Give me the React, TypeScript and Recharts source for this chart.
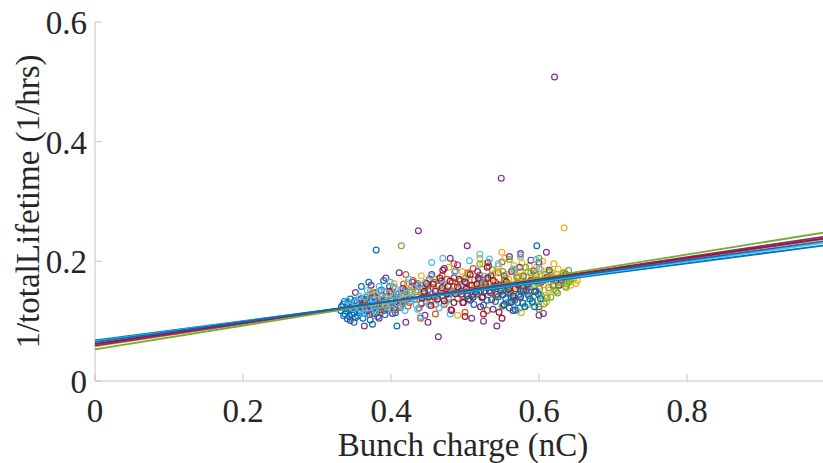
import { ScatterChart, Scatter, XAxis, YAxis } from "recharts";

// axis ticks
const chargeTicks = [0, 0.2, 0.4, 0.6, 0.8];
const rateTicks = [0, 0.2, 0.4, 0.6];

// measured points per run: [bunch charge (nC), 1/lifetime (1/hrs)]
const run1 = [
  [0.332, 0.118], [0.335, 0.128], [0.338, 0.112], [0.34, 0.122], [0.342, 0.131], [0.344, 0.108],
  [0.346, 0.119], [0.348, 0.126], [0.35, 0.114], [0.351, 0.134], [0.353, 0.121], [0.355, 0.109],
  [0.356, 0.127], [0.358, 0.117], [0.36, 0.138], [0.361, 0.124], [0.363, 0.113], [0.365, 0.13],
  [0.366, 0.119], [0.368, 0.142], [0.37, 0.126], [0.371, 0.111], [0.373, 0.133], [0.375, 0.121],
  [0.376, 0.147], [0.378, 0.128], [0.38, 0.219], [0.381, 0.116], [0.383, 0.137], [0.385, 0.124],
  [0.387, 0.152], [0.389, 0.131], [0.391, 0.118], [0.393, 0.14], [0.396, 0.127], [0.398, 0.158],
  [0.401, 0.133], [0.404, 0.121], [0.407, 0.145], [0.408, 0.092], [0.411, 0.136], [0.415, 0.129],
  [0.419, 0.149], [0.333, 0.124], [0.336, 0.109], [0.337, 0.133], [0.339, 0.117], [0.341, 0.104],
  [0.343, 0.125], [0.345, 0.137], [0.347, 0.112], [0.349, 0.121], [0.352, 0.106], [0.354, 0.131],
  [0.357, 0.114], [0.359, 0.125], [0.362, 0.105], [0.364, 0.136], [0.367, 0.116], [0.369, 0.129],
  [0.372, 0.102], [0.374, 0.139], [0.377, 0.113], [0.379, 0.124], [0.382, 0.108], [0.384, 0.131],
  [0.386, 0.119], [0.388, 0.143], [0.39, 0.125], [0.392, 0.111], [0.395, 0.134], [0.397, 0.121],
  [0.4, 0.146], [0.403, 0.127], [0.406, 0.114], [0.41, 0.139], [0.413, 0.123], [0.417, 0.135],
  [0.36, 0.158], [0.37, 0.165], [0.39, 0.168], [0.35, 0.098], [0.375, 0.095],
];
const run2 = [
  [0.362, 0.131], [0.367, 0.118], [0.372, 0.145], [0.377, 0.126], [0.382, 0.139], [0.386, 0.115],
  [0.391, 0.15], [0.395, 0.132], [0.399, 0.12], [0.403, 0.157], [0.408, 0.138], [0.412, 0.126],
  [0.417, 0.162], [0.421, 0.144], [0.425, 0.131], [0.43, 0.168], [0.434, 0.149], [0.438, 0.122],
  [0.443, 0.155], [0.447, 0.139], [0.452, 0.171], [0.456, 0.146], [0.46, 0.128], [0.465, 0.159],
  [0.469, 0.176], [0.474, 0.151], [0.478, 0.137], [0.483, 0.166], [0.487, 0.184], [0.492, 0.155],
  [0.497, 0.142], [0.501, 0.172], [0.506, 0.16], [0.511, 0.188], [0.515, 0.149], [0.52, 0.177],
  [0.526, 0.163], [0.532, 0.192], [0.538, 0.155], [0.545, 0.181], [0.553, 0.168], [0.561, 0.146],
  [0.57, 0.174], [0.364, 0.124], [0.369, 0.137], [0.374, 0.113], [0.379, 0.148], [0.384, 0.131],
  [0.389, 0.122], [0.393, 0.141], [0.397, 0.127], [0.401, 0.149], [0.406, 0.119], [0.41, 0.146],
  [0.414, 0.133], [0.419, 0.152], [0.423, 0.125], [0.428, 0.158], [0.432, 0.137], [0.436, 0.163],
  [0.441, 0.13], [0.445, 0.148], [0.45, 0.159], [0.454, 0.136], [0.458, 0.165], [0.463, 0.143],
  [0.467, 0.152], [0.472, 0.128], [0.476, 0.17], [0.481, 0.147], [0.485, 0.158], [0.49, 0.138],
  [0.494, 0.167], [0.499, 0.151], [0.504, 0.181], [0.509, 0.143], [0.513, 0.169], [0.518, 0.156],
  [0.523, 0.139], [0.529, 0.171], [0.535, 0.148], [0.541, 0.165], [0.549, 0.155], [0.44, 0.105],
  [0.46, 0.112], [0.5, 0.115], [0.53, 0.118], [0.485, 0.196], [0.55, 0.199], [0.42, 0.178],
];
const run3 = [
  [0.381, 0.142], [0.392, 0.128], [0.404, 0.163], [0.416, 0.138], [0.428, 0.152], [0.441, 0.176],
  [0.453, 0.133], [0.466, 0.168], [0.478, 0.19], [0.49, 0.147], [0.502, 0.172], [0.514, 0.158],
  [0.524, 0.196], [0.533, 0.164], [0.541, 0.181], [0.548, 0.152], [0.554, 0.205], [0.559, 0.17],
  [0.564, 0.186], [0.568, 0.158], [0.573, 0.175], [0.577, 0.197], [0.581, 0.163], [0.585, 0.182],
  [0.589, 0.148], [0.593, 0.171], [0.597, 0.19], [0.6, 0.158], [0.604, 0.176], [0.608, 0.143],
  [0.612, 0.185], [0.616, 0.165], [0.62, 0.152], [0.624, 0.178], [0.628, 0.16], [0.632, 0.171],
  [0.634, 0.256], [0.637, 0.156], [0.641, 0.168], [0.645, 0.176], [0.65, 0.163], [0.576, 0.114],
  [0.372, 0.15], [0.398, 0.146], [0.422, 0.164], [0.447, 0.141], [0.472, 0.158], [0.496, 0.183],
  [0.52, 0.147], [0.537, 0.173], [0.545, 0.192], [0.551, 0.161], [0.556, 0.178], [0.561, 0.149],
  [0.566, 0.193], [0.57, 0.167], [0.575, 0.184], [0.579, 0.155], [0.583, 0.174], [0.587, 0.192],
  [0.591, 0.16], [0.595, 0.18], [0.598, 0.169], [0.602, 0.187], [0.606, 0.161], [0.61, 0.174],
  [0.614, 0.152], [0.618, 0.181], [0.622, 0.168], [0.626, 0.187], [0.63, 0.163], [0.635, 0.182],
  [0.639, 0.172], [0.643, 0.16], [0.647, 0.171], [0.652, 0.168], [0.52, 0.205], [0.55, 0.215],
  [0.575, 0.207], [0.605, 0.2], [0.62, 0.196], [0.49, 0.11], [0.58, 0.125], [0.61, 0.132],
];
const run4 = [
  [0.345, 0.101], [0.352, 0.148], [0.364, 0.092], [0.373, 0.16], [0.384, 0.105], [0.393, 0.172],
  [0.402, 0.113], [0.411, 0.181], [0.42, 0.098], [0.429, 0.165], [0.437, 0.251], [0.446, 0.11],
  [0.455, 0.178], [0.464, 0.074], [0.472, 0.188], [0.481, 0.119], [0.49, 0.194], [0.498, 0.131],
  [0.503, 0.226], [0.509, 0.105], [0.517, 0.183], [0.524, 0.141], [0.531, 0.198], [0.538, 0.12],
  [0.543, 0.092], [0.549, 0.339], [0.553, 0.176], [0.56, 0.208], [0.567, 0.135], [0.574, 0.19],
  [0.582, 0.15], [0.589, 0.202], [0.596, 0.168], [0.6, 0.11], [0.606, 0.113], [0.614, 0.185],
  [0.621, 0.508], [0.627, 0.16], [0.636, 0.178], [0.348, 0.125], [0.358, 0.136], [0.368, 0.118],
  [0.378, 0.141], [0.388, 0.127], [0.398, 0.15], [0.407, 0.133], [0.416, 0.155], [0.425, 0.138],
  [0.434, 0.16], [0.441, 0.129], [0.45, 0.152], [0.459, 0.14], [0.468, 0.167], [0.476, 0.145],
  [0.485, 0.172], [0.494, 0.15], [0.502, 0.163], [0.511, 0.145], [0.52, 0.17], [0.528, 0.157],
  [0.535, 0.176], [0.545, 0.161], [0.556, 0.15], [0.563, 0.183], [0.571, 0.162], [0.579, 0.175],
  [0.586, 0.157], [0.593, 0.184], [0.603, 0.165], [0.611, 0.173], [0.619, 0.16], [0.63, 0.169],
  [0.48, 0.205], [0.575, 0.213], [0.6, 0.198], [0.45, 0.098], [0.525, 0.1], [0.6, 0.124], [0.61, 0.215],
];
const run5 = [
  [0.402, 0.135], [0.414, 0.226], [0.425, 0.148], [0.448, 0.158], [0.47, 0.143], [0.493, 0.167],
  [0.515, 0.152], [0.531, 0.174], [0.542, 0.141], [0.551, 0.183], [0.558, 0.16], [0.565, 0.138],
  [0.571, 0.172], [0.576, 0.15], [0.582, 0.19], [0.587, 0.163], [0.591, 0.131], [0.596, 0.177],
  [0.601, 0.154], [0.606, 0.168], [0.611, 0.139], [0.615, 0.182], [0.62, 0.161], [0.625, 0.147],
  [0.63, 0.173], [0.636, 0.158], [0.641, 0.166], [0.585, 0.128], [0.574, 0.122], [0.436, 0.152],
  [0.459, 0.17], [0.482, 0.15], [0.504, 0.178], [0.522, 0.16], [0.537, 0.186], [0.547, 0.155],
  [0.554, 0.171], [0.561, 0.149], [0.567, 0.186], [0.573, 0.161], [0.579, 0.176], [0.584, 0.146],
  [0.589, 0.181], [0.593, 0.158], [0.598, 0.165], [0.603, 0.143], [0.608, 0.178], [0.613, 0.156],
  [0.618, 0.171], [0.623, 0.15], [0.628, 0.165], [0.633, 0.18], [0.638, 0.162], [0.644, 0.171],
  [0.598, 0.135], [0.607, 0.129], [0.616, 0.14], [0.52, 0.195], [0.56, 0.203], [0.6, 0.205],
  [0.64, 0.185], [0.6, 0.12], [0.55, 0.125],
];
const run6 = [
  [0.341, 0.134], [0.349, 0.121], [0.357, 0.142], [0.362, 0.113], [0.368, 0.151], [0.373, 0.129],
  [0.379, 0.117], [0.384, 0.158], [0.389, 0.137], [0.394, 0.124], [0.399, 0.165], [0.404, 0.143],
  [0.409, 0.13], [0.414, 0.152], [0.419, 0.118], [0.424, 0.17], [0.429, 0.139], [0.434, 0.127],
  [0.439, 0.16], [0.444, 0.146], [0.449, 0.133], [0.454, 0.175], [0.459, 0.151], [0.465, 0.122],
  [0.471, 0.163], [0.478, 0.14], [0.486, 0.182], [0.495, 0.157], [0.506, 0.201], [0.519, 0.166],
  [0.533, 0.204], [0.549, 0.149], [0.566, 0.187], [0.581, 0.139], [0.596, 0.203], [0.344, 0.126],
  [0.352, 0.132], [0.359, 0.119], [0.365, 0.14], [0.37, 0.122], [0.376, 0.136], [0.381, 0.146],
  [0.386, 0.127], [0.391, 0.149], [0.396, 0.133], [0.401, 0.12], [0.406, 0.155], [0.411, 0.138],
  [0.416, 0.128], [0.421, 0.147], [0.426, 0.134], [0.431, 0.156], [0.436, 0.12], [0.441, 0.141],
  [0.446, 0.165], [0.451, 0.128], [0.456, 0.145], [0.462, 0.135], [0.468, 0.154], [0.474, 0.131],
  [0.481, 0.152], [0.49, 0.139], [0.501, 0.165], [0.513, 0.15], [0.526, 0.175], [0.541, 0.16],
  [0.558, 0.132], [0.572, 0.143], [0.588, 0.16], [0.455, 0.198], [0.47, 0.205], [0.52, 0.212],
  [0.545, 0.196], [0.575, 0.21], [0.6, 0.188], [0.44, 0.108], [0.48, 0.112], [0.57, 0.118],
];
const run7 = [
  [0.442, 0.139], [0.448, 0.163], [0.454, 0.126], [0.46, 0.15], [0.466, 0.172], [0.472, 0.134],
  [0.477, 0.158], [0.482, 0.118], [0.487, 0.146], [0.492, 0.17], [0.497, 0.131], [0.502, 0.155],
  [0.507, 0.178], [0.511, 0.14], [0.516, 0.162], [0.521, 0.124], [0.526, 0.15], [0.531, 0.172],
  [0.536, 0.136], [0.541, 0.158], [0.546, 0.115], [0.551, 0.144], [0.556, 0.166], [0.562, 0.131],
  [0.568, 0.154], [0.575, 0.141], [0.584, 0.162], [0.594, 0.149], [0.445, 0.15], [0.451, 0.141],
  [0.457, 0.162], [0.463, 0.137], [0.469, 0.156], [0.475, 0.146], [0.48, 0.167], [0.485, 0.131],
  [0.49, 0.157], [0.495, 0.145], [0.5, 0.166], [0.505, 0.137], [0.509, 0.16], [0.514, 0.149],
  [0.518, 0.172], [0.523, 0.14], [0.528, 0.161], [0.533, 0.151], [0.538, 0.168], [0.543, 0.145],
  [0.548, 0.16], [0.553, 0.128], [0.559, 0.153], [0.565, 0.142], [0.572, 0.16], [0.579, 0.151],
  [0.589, 0.168], [0.5, 0.108], [0.525, 0.112], [0.55, 0.105], [0.47, 0.185], [0.53, 0.19],
  [0.565, 0.118],
];
const run8 = [
  [0.503, 0.142], [0.512, 0.128], [0.521, 0.15], [0.53, 0.135], [0.538, 0.157], [0.545, 0.141],
  [0.552, 0.126], [0.558, 0.148], [0.563, 0.133], [0.568, 0.119], [0.573, 0.145], [0.578, 0.13],
  [0.583, 0.152], [0.588, 0.137], [0.594, 0.124], [0.599, 0.146], [0.597, 0.226], [0.507, 0.135],
  [0.516, 0.145], [0.525, 0.127], [0.534, 0.148], [0.541, 0.133], [0.548, 0.15], [0.555, 0.138],
  [0.56, 0.122], [0.566, 0.141], [0.571, 0.131], [0.576, 0.15], [0.581, 0.124], [0.586, 0.143],
  [0.591, 0.133], [0.596, 0.15], [0.602, 0.138],
];

// linear fits, value at charge = 0 and at charge = 1
const fitAtZero = [0.068, 0.061, 0.058, 0.059, 0.053, 0.066, 0.062, 0.065];
const fitAtOne = [0.229, 0.24, 0.243, 0.244, 0.251, 0.233, 0.241, 0.236];

const runs = [run1, run2, run3, run4, run5, run6, run7, run8];
const runColors = ["#0072BD", "#D95319", "#EDB120", "#7E2F8E", "#77AC30", "#4DBEEE", "#A2142F", "#0072BD"];

const FONT = "'Liberation Serif', 'Times New Roman', serif";
const AXIS = "#c4c4c4";
const INK = "#262626";

const BottomTick = ({ x, y, payload }: any) => (
  <g>
    <line x1={x} y1={y} x2={x} y2={y - 7} stroke={AXIS} />
    <text x={x} y={y + 41} textAnchor="middle" fontFamily={FONT} fontSize={33} fill={INK}>
      {payload.value}
    </text>
  </g>
);

const TopTick = ({ x, y }: any) => <line x1={x} y1={y} x2={x} y2={y + 7} stroke={AXIS} />;

const LeftTick = ({ x, y, payload }: any) => (
  <g>
    <line x1={x} y1={y} x2={x + 7} y2={y} stroke={AXIS} />
    <text x={x - 8} y={y + 12} textAnchor="end" fontFamily={FONT} fontSize={33} fill={INK}>
      {payload.value}
    </text>
  </g>
);

const YTitle = ({ viewBox }: any) => {
  const cx = viewBox.x + 39;
  const cy = viewBox.y + viewBox.height / 2;
  return (
    <text
      x={cx}
      y={cy}
      transform={`rotate(-90, ${cx}, ${cy})`}
      textAnchor="middle"
      fontFamily={FONT}
      fontSize={33}
      fill={INK}
    >
      1/totalLifetime (1/hrs)
    </text>
  );
};

const XTitle = ({ viewBox }: any) => (
  <text
    x={viewBox.x + viewBox.width / 2 - 2}
    y={viewBox.y + 75}
    textAnchor="middle"
    fontFamily={FONT}
    fontSize={33}
    fill={INK}
  >
    Bunch charge (nC)
  </text>
);

const Hidden = () => <g />;

export default function App() {
  return (
    <div style={{ position: "absolute", left: 0, top: 0, width: 823, height: 463, overflow: "hidden", background: "#fff" }}>
      <ScatterChart width={850} height={463} margin={{ top: 22, right: 15, bottom: 0, left: 0 }}>
        <XAxis
          type="number"
          dataKey="x"
          domain={[0, 1]}
          ticks={chargeTicks}
          height={82}
          tickSize={0}
          tickMargin={0}
          stroke={AXIS}
          tick={<BottomTick />}
          label={<XTitle />}
        />
        <XAxis
          xAxisId="top"
          orientation="top"
          type="number"
          dataKey="x"
          domain={[0, 1]}
          allowDataOverflow
          ticks={chargeTicks}
          height={0}
          tickSize={0}
          tickMargin={0}
          stroke={AXIS}
          tick={<TopTick />}
        />
        <YAxis
          type="number"
          dataKey="y"
          domain={[0, 0.6]}
          ticks={rateTicks}
          width={95}
          tickSize={0}
          tickMargin={0}
          stroke={AXIS}
          tick={<LeftTick />}
          label={<YTitle />}
        />
        {runs.map((run, i) => (
          <Scatter
            key={`run${i}`}
            data={run.map(([x, y]) => ({ x, y }))}
            isAnimationActive={false}
            shape={(p: any) => (
              <circle cx={p.cx} cy={p.cy} r={2.9} fill="none" stroke={runColors[i]} strokeWidth={1.2} />
            )}
          />
        ))}
        {fitAtZero.map((y0, i) => (
          <Scatter
            key={`fit${i}`}
            data={[
              { x: 0, y: y0 },
              { x: 1, y: fitAtOne[i] },
            ]}
            isAnimationActive={false}
            line={{ stroke: runColors[i], strokeWidth: 1.8 }}
            shape={<Hidden />}
          />
        ))}
      </ScatterChart>
    </div>
  );
}
